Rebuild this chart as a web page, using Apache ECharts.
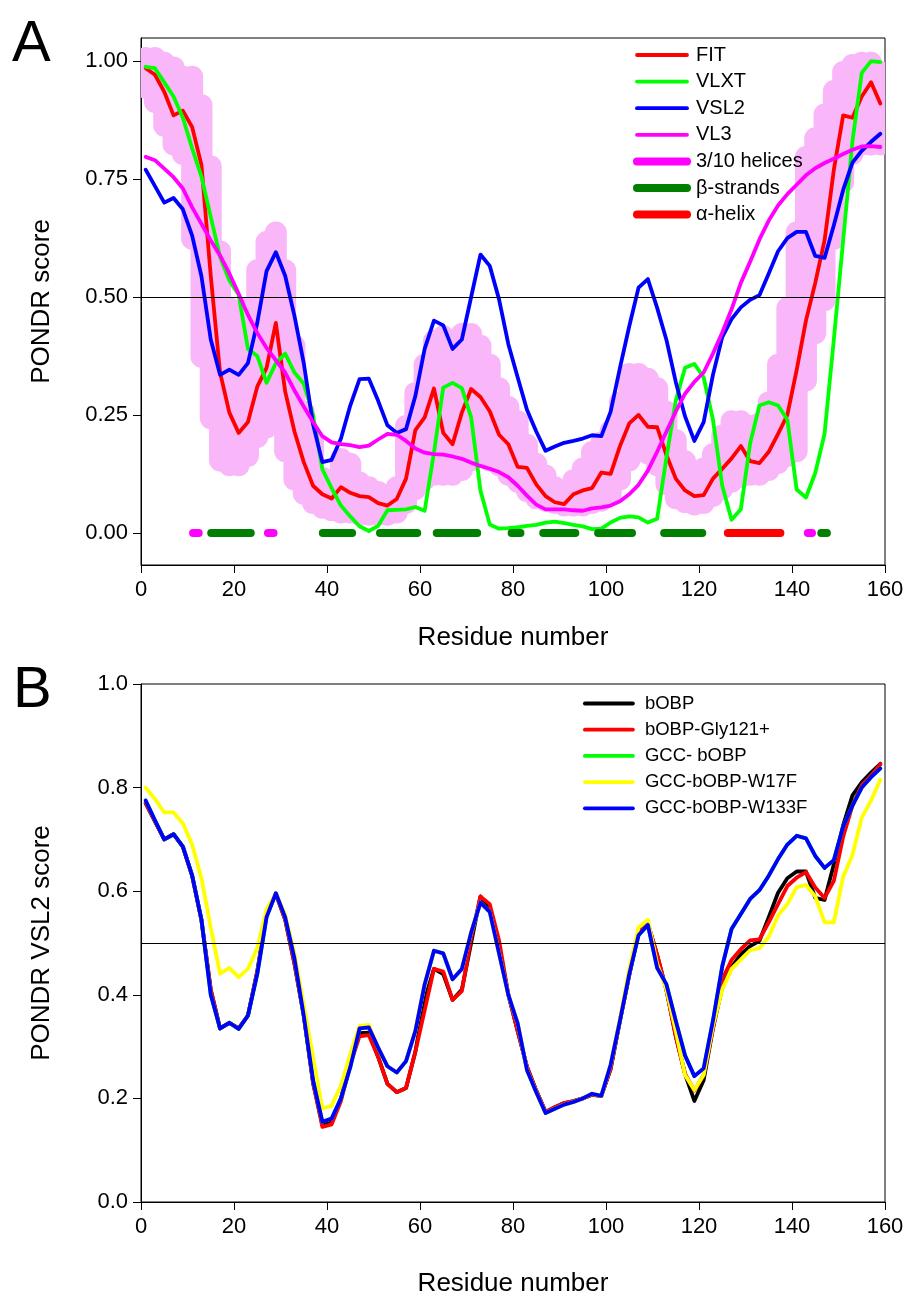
<!DOCTYPE html>
<html><head><meta charset="utf-8">
<script src="https://cdn.jsdelivr.net/npm/echarts@6/dist/echarts.min.js"></script>
<style>html,body{margin:0;padding:0;background:#fff}#c{width:910px;height:1299px}</style>
</head><body><div id="c"></div>
<script>
// residue numbers (shared x positions)
const residues = [1,3,5,7,9,11,13,15,17,19,21,23,25,27,29,31,33,35,37,39,
  41,43,45,47,49,51,53,55,57,59,61,63,65,67,69,71,73,75,77,79,
  81,83,85,87,89,91,93,95,97,99,101,103,105,107,109,111,113,115,117,119,
  121,123,125,127,129,131,133,135,137,139,141,143,145,147,149,151,153,155,157,159];
const yTicksA = [0,0.25,0.5,0.75,1];

// ---- Panel A ----
const fit = [0.985,0.971,0.935,0.885,0.895,0.86,0.78,0.545,0.34,0.255,
 0.212,0.235,0.31,0.35,0.445,0.30,0.215,0.15,0.10,0.082,
 0.073,0.097,0.085,0.078,0.076,0.063,0.058,0.072,0.115,0.218,
 0.245,0.306,0.212,0.188,0.255,0.305,0.288,0.258,0.208,0.188,
 0.14,0.138,0.103,0.078,0.065,0.061,0.082,0.09,0.095,0.128,
 0.125,0.184,0.232,0.25,0.225,0.224,0.165,0.115,0.09,0.078,
 0.08,0.115,0.136,0.158,0.184,0.152,0.148,0.172,0.21,0.25,
 0.345,0.45,0.53,0.62,0.77,0.885,0.88,0.925,0.955,0.91];
const vlxt = [0.988,0.985,0.955,0.925,0.88,0.815,0.755,0.67,0.585,0.535,
 0.505,0.39,0.375,0.318,0.36,0.38,0.34,0.316,0.25,0.135,
 0.095,0.058,0.035,0.014,0.004,0.015,0.048,0.049,0.05,0.055,
 0.047,0.17,0.308,0.318,0.307,0.245,0.09,0.018,0.009,0.01,
 0.012,0.015,0.017,0.022,0.024,0.021,0.017,0.014,0.008,0.009,
 0.022,0.032,0.035,0.033,0.022,0.03,0.16,0.28,0.35,0.358,
 0.33,0.24,0.10,0.028,0.05,0.19,0.27,0.277,0.27,0.24,
 0.092,0.075,0.127,0.21,0.41,0.62,0.83,0.975,1.0,0.998];
const vsl2 = [0.77,0.735,0.70,0.71,0.686,0.63,0.544,0.41,0.335,0.346,
 0.335,0.36,0.445,0.555,0.595,0.545,0.46,0.36,0.23,0.15,
 0.155,0.20,0.27,0.326,0.327,0.28,0.228,0.212,0.22,0.29,
 0.39,0.45,0.44,0.39,0.41,0.50,0.59,0.566,0.495,0.40,
 0.33,0.261,0.215,0.174,0.183,0.191,0.195,0.20,0.207,0.205,
 0.257,0.35,0.438,0.52,0.538,0.477,0.409,0.32,0.247,0.195,
 0.235,0.335,0.415,0.453,0.478,0.494,0.504,0.55,0.597,0.625,
 0.638,0.638,0.587,0.583,0.652,0.727,0.785,0.81,0.829,0.846];
const vl3 = [0.797,0.79,0.772,0.754,0.73,0.69,0.655,0.62,0.588,0.55,
 0.507,0.462,0.424,0.392,0.366,0.34,0.302,0.268,0.235,0.205,
 0.192,0.188,0.186,0.182,0.185,0.198,0.21,0.208,0.195,0.179,
 0.17,0.167,0.166,0.162,0.157,0.149,0.142,0.136,0.129,0.118,
 0.10,0.079,0.06,0.05,0.05,0.05,0.048,0.047,0.052,0.054,
 0.058,0.067,0.082,0.102,0.132,0.172,0.215,0.257,0.295,0.32,
 0.34,0.38,0.425,0.474,0.53,0.575,0.622,0.662,0.694,0.718,
 0.738,0.758,0.773,0.784,0.793,0.803,0.812,0.819,0.82,0.818];
// FIT error band (lower / upper envelope)
const bandLow = [0.92,0.89,0.84,0.80,0.78,0.60,0.35,0.22,0.13,0.12,
 0.12,0.14,0.18,0.20,0.21,0.15,0.09,0.06,0.04,0.03,
 0.025,0.02,0.02,0.015,0.015,0.015,0.015,0.02,0.04,0.07,
 0.09,0.10,0.10,0.10,0.11,0.13,0.14,0.13,0.12,0.10,
 0.085,0.065,0.05,0.045,0.04,0.035,0.035,0.035,0.04,0.045,
 0.06,0.09,0.13,0.15,0.145,0.12,0.08,0.05,0.042,0.037,
 0.04,0.055,0.07,0.085,0.095,0.10,0.10,0.11,0.125,0.14,
 0.15,0.30,0.40,0.47,0.60,0.72,0.78,0.80,0.80,0.80];
const bandHigh = [1.03,1.03,1.02,1.01,0.99,0.99,0.93,0.80,0.62,0.50,
 0.47,0.50,0.58,0.64,0.66,0.58,0.42,0.28,0.22,0.14,
 0.13,0.18,0.17,0.13,0.12,0.11,0.10,0.12,0.25,0.32,
 0.38,0.43,0.44,0.43,0.445,0.445,0.42,0.38,0.33,0.29,
 0.26,0.21,0.17,0.145,0.12,0.11,0.135,0.16,0.195,0.215,
 0.24,0.30,0.36,0.36,0.35,0.33,0.28,0.22,0.175,0.15,
 0.16,0.19,0.23,0.26,0.26,0.25,0.255,0.30,0.38,0.50,
 0.66,0.82,0.86,0.91,0.96,1.0,1.015,1.02,1.02,1.00];
// secondary structure elements [start, end] residues
const helix310 = [[11.2,12.4],[27.3,28.5],[143.4,144.3]];
const betaStrands = [[15.1,23.6],[39.1,45.4],[51.4,59.4],[63.6,72.3],[79.7,81.6],[86.5,93.4],[98.3,105.6],[112.5,120.7],[146.3,147.5]];
const alphaHelix = [[126.2,137.5]];

// ---- Panel B ----
const bOBP = [0.77,0.735,0.70,0.71,0.686,0.63,0.544,0.41,0.335,0.346,
 0.335,0.36,0.445,0.555,0.595,0.545,0.46,0.36,0.23,0.15,
 0.155,0.20,0.27,0.326,0.327,0.28,0.228,0.212,0.22,0.29,
 0.39,0.45,0.44,0.39,0.41,0.50,0.59,0.566,0.495,0.40,
 0.33,0.261,0.215,0.174,0.183,0.191,0.195,0.20,0.207,0.205,
 0.257,0.35,0.438,0.52,0.538,0.477,0.409,0.32,0.247,0.195,
 0.235,0.335,0.415,0.453,0.478,0.494,0.504,0.55,0.597,0.625,
 0.638,0.638,0.587,0.583,0.652,0.727,0.785,0.81,0.829,0.846];
const gly121 = [0.77,0.735,0.70,0.71,0.686,0.63,0.544,0.41,0.335,0.346,
 0.335,0.36,0.445,0.555,0.595,0.545,0.46,0.36,0.23,0.145,
 0.15,0.195,0.265,0.32,0.322,0.28,0.228,0.212,0.22,0.29,
 0.37,0.45,0.445,0.39,0.407,0.51,0.59,0.575,0.505,0.40,
 0.33,0.261,0.215,0.174,0.183,0.191,0.195,0.20,0.207,0.205,
 0.257,0.35,0.438,0.52,0.538,0.477,0.409,0.32,0.247,0.215,
 0.245,0.335,0.43,0.467,0.488,0.505,0.507,0.54,0.575,0.61,
 0.626,0.637,0.607,0.587,0.62,0.705,0.765,0.805,0.823,0.845];
const gccBOBP = [0.775,0.737,0.70,0.71,0.686,0.63,0.545,0.40,0.335,0.346,
 0.334,0.36,0.44,0.55,0.596,0.55,0.47,0.36,0.235,0.155,
 0.161,0.20,0.26,0.335,0.337,0.298,0.262,0.25,0.272,0.33,
 0.42,0.485,0.48,0.43,0.45,0.52,0.578,0.56,0.48,0.40,
 0.345,0.255,0.212,0.172,0.18,0.188,0.193,0.20,0.209,0.205,
 0.265,0.35,0.44,0.515,0.535,0.452,0.42,0.35,0.283,0.243,
 0.258,0.35,0.455,0.527,0.556,0.585,0.602,0.63,0.662,0.69,
 0.707,0.702,0.668,0.645,0.66,0.725,0.765,0.80,0.82,0.837];
const w17f = [0.80,0.778,0.752,0.752,0.731,0.69,0.625,0.53,0.441,0.452,
 0.434,0.45,0.49,0.565,0.596,0.555,0.48,0.38,0.28,0.18,
 0.186,0.225,0.285,0.34,0.342,0.298,0.262,0.25,0.272,0.33,
 0.42,0.485,0.48,0.43,0.45,0.52,0.578,0.56,0.48,0.40,
 0.345,0.255,0.212,0.172,0.18,0.188,0.193,0.20,0.209,0.205,
 0.265,0.355,0.45,0.53,0.545,0.46,0.41,0.33,0.245,0.216,
 0.245,0.34,0.41,0.45,0.468,0.486,0.49,0.512,0.553,0.575,
 0.608,0.612,0.59,0.54,0.54,0.628,0.67,0.742,0.775,0.815];
const w133f = [0.775,0.737,0.70,0.71,0.686,0.63,0.545,0.40,0.335,0.346,
 0.334,0.36,0.44,0.55,0.596,0.55,0.47,0.36,0.235,0.155,
 0.161,0.20,0.26,0.335,0.337,0.298,0.262,0.25,0.272,0.33,
 0.42,0.485,0.48,0.43,0.45,0.52,0.578,0.56,0.48,0.40,
 0.345,0.255,0.212,0.172,0.18,0.188,0.193,0.20,0.209,0.205,
 0.265,0.35,0.44,0.515,0.535,0.452,0.42,0.35,0.283,0.243,
 0.258,0.35,0.455,0.527,0.556,0.585,0.602,0.63,0.662,0.69,
 0.707,0.702,0.668,0.645,0.66,0.725,0.765,0.80,0.82,0.837];

const FONT = '"Liberation Sans", Arial, sans-serif';
const LW = 3.8;
const pairs = arr => residues.map((r, i) => [r, arr[i]]);
const segData = segs => { const d = []; segs.forEach(s => { d.push([s[0], 0], [s[1], 0], [s[1], null]); }); return d; };

const chart = echarts.init(document.getElementById('c'));

function xAxisCfg(gi, gap) {
  return {
    gridIndex: gi, type: 'value', min: 0, max: 160, interval: 20,
    name: 'Residue number', nameLocation: 'middle', nameGap: gap,
    nameTextStyle: { fontSize: 26, color: '#000', fontFamily: FONT },
    axisLine: { onZero: false, lineStyle: { color: '#000', width: 1 } },
    axisTick: { inside: false, length: 8, lineStyle: { color: '#000', width: 1 } },
    axisLabel: { fontSize: 22, color: '#000', margin: 14, fontFamily: FONT },
    splitLine: { show: false }
  };
}
function lineS(name, data, color, xi, extra) {
  return Object.assign({
    type: 'line', name, data: pairs(data), xAxisIndex: xi, yAxisIndex: xi,
    symbol: 'none', smooth: false, clip: true,
    lineStyle: { color, width: LW, cap: 'round', join: 'round' },
    itemStyle: { color }
  }, extra || {});
}
function segS(name, segs, color) {
  return {
    type: 'line', name, data: segData(segs), xAxisIndex: 0, yAxisIndex: 0,
    symbol: 'none', connectNulls: false,
    lineStyle: { color, width: 8, cap: 'round', join: 'round' },
    itemStyle: { color }
  };
}
const legItem = (name, w) => ({ name, lineStyle: { width: w, cap: 'round' }, itemStyle: { opacity: 0 } });
const refLine = { silent: true, symbol: 'none', label: { show: false },
  lineStyle: { color: '#000', width: 1, type: 'solid' }, data: [{ yAxis: 0.5 }] };

const option = {
  animation: false,
  backgroundColor: '#fff',
  textStyle: { fontFamily: FONT },
  grid: [
    { left: 141, right: 25, top: 38, height: 527, show: true, borderColor: '#000', borderWidth: 1, backgroundColor: 'transparent' },
    { left: 141, right: 25, top: 684, height: 518, show: true, borderColor: '#000', borderWidth: 1, backgroundColor: 'transparent' }
  ],
  xAxis: [ xAxisCfg(0, 60), xAxisCfg(1, 69) ],
  yAxis: [
    { gridIndex: 0, type: 'value', min: -0.068, max: 1.049,
      name: 'PONDR score', nameLocation: 'middle', nameGap: 86,
      nameTextStyle: { fontSize: 26, color: '#000', fontFamily: FONT },
      axisLine: { show: true, onZero: false, lineStyle: { color: '#000', width: 1 } },
      axisTick: { show: true, inside: false, length: 8, customValues: yTicksA, lineStyle: { color: '#000' } },
      axisLabel: { customValues: yTicksA, formatter: v => Number(v).toFixed(2), fontSize: 22, color: '#000', margin: 13, fontFamily: FONT },
      splitLine: { show: false } },
    { gridIndex: 1, type: 'value', min: 0, max: 1, interval: 0.2,
      name: 'PONDR VSL2 score', nameLocation: 'middle', nameGap: 86,
      nameTextStyle: { fontSize: 26, color: '#000', fontFamily: FONT },
      axisLine: { show: true, onZero: false, lineStyle: { color: '#000', width: 1 } },
      axisTick: { show: true, inside: false, length: 8, lineStyle: { color: '#000' } },
      axisLabel: { formatter: v => Number(v).toFixed(1), fontSize: 22, color: '#000', margin: 13, fontFamily: FONT },
      splitLine: { show: false } }
  ],
  legend: [
    { data: [legItem('FIT', LW), legItem('VLXT', LW), legItem('VSL2', LW), legItem('VL3', LW),
             legItem('3/10 helices', 8), legItem('β-strands', 8), legItem('α-helix', 8)],
      orient: 'vertical', left: 628, top: 40, itemWidth: 50, itemHeight: 14, itemGap: 6.6,
      selectedMode: false, itemStyle: { opacity: 0 },
      textStyle: { fontSize: 20, color: '#000', lineHeight: 20, fontFamily: FONT, padding: [0,0,0,4] } },
    { data: [legItem('bOBP', LW), legItem('bOBP-Gly121+', LW), legItem('GCC- bOBP', LW),
             legItem('GCC-bOBP-W17F', LW), legItem('GCC-bOBP-W133F', LW)],
      orient: 'vertical', left: 578, top: 689, itemWidth: 48, itemHeight: 14, itemGap: 7.2,
      selectedMode: false, itemStyle: { opacity: 0 },
      textStyle: { fontSize: 18.5, color: '#000', lineHeight: 19, fontFamily: FONT, padding: [0,0,0,7] } }
  ],
  graphic: [
    { type: 'text', left: 12, top: 16, style: { text: 'A', font: '58px "Liberation Sans", Arial', fill: '#000' } },
    { type: 'text', left: 13, top: 662, style: { text: 'B', font: '58px "Liberation Sans", Arial', fill: '#000' } }
  ],
  series: [
    { type: 'custom', name: 'FIT error', xAxisIndex: 0, yAxisIndex: 0, clip: true, silent: true, z: 1,
      data: residues.map((r, i) => [r, bandLow[i], bandHigh[i]]),
      encode: { x: 0, y: [1, 2] },
      renderItem: (params, api) => {
        const r = api.value(0), lo = api.value(1), hi = api.value(2);
        const pHi = api.coord([r, hi]), pLo = api.coord([r, lo]);
        const R = 11;
        let top = pHi[1] + R, bot = pLo[1] - R;
        if (bot < top) { const m = (top + bot) / 2; top = m; bot = m; }
        return { type: 'rect', shape: { x: pHi[0] - R, y: top - R, width: 2 * R, height: bot - top + 2 * R, r: R },
          style: { fill: '#F9B7F9' } };
      } },
    lineS('FIT', fit, '#FF0000', 0, { markLine: refLine }),
    lineS('VLXT', vlxt, '#00FF00', 0),
    lineS('VSL2', vsl2, '#0000FF', 0),
    lineS('VL3', vl3, '#FF00FF', 0),
    segS('3/10 helices', helix310, '#FF00FF'),
    segS('β-strands', betaStrands, '#007F00'),
    segS('α-helix', alphaHelix, '#FF0000'),
    lineS('bOBP', bOBP, '#000000', 1, { markLine: refLine }),
    lineS('bOBP-Gly121+', gly121, '#FF0000', 1),
    lineS('GCC- bOBP', gccBOBP, '#00FF00', 1),
    lineS('GCC-bOBP-W17F', w17f, '#FFFF00', 1),
    lineS('GCC-bOBP-W133F', w133f, '#0000FF', 1)
  ]
};
chart.setOption(option);
</script>
</body></html>
